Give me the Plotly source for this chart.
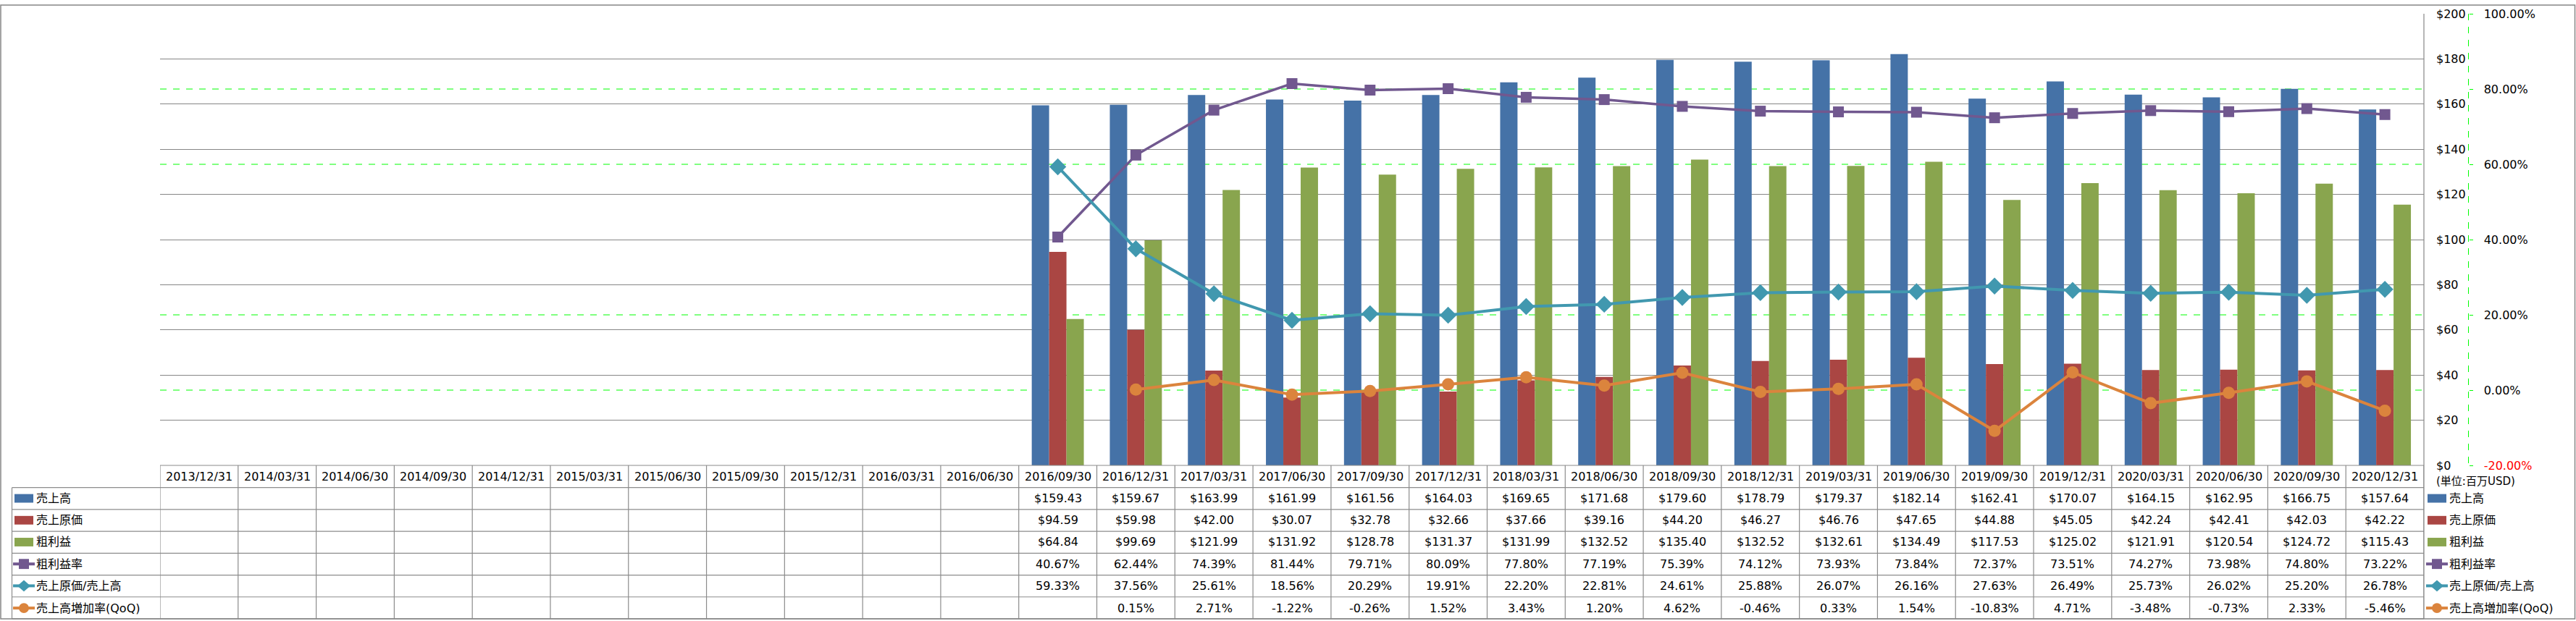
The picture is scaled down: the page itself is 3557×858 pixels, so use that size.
import plotly.graph_objects as go

dates = ["2013/12/31", "2014/03/31", "2014/06/30", "2014/09/30", "2014/12/31",
         "2015/03/31", "2015/06/30", "2015/09/30", "2015/12/31", "2016/03/31",
         "2016/06/30", "2016/09/30", "2016/12/31", "2017/03/31", "2017/06/30",
         "2017/09/30", "2017/12/31", "2018/03/31", "2018/06/30", "2018/09/30",
         "2018/12/31", "2019/03/31", "2019/06/30", "2019/09/30", "2019/12/31",
         "2020/03/31", "2020/06/30", "2020/09/30", "2020/12/31"]
n_empty = 11  # quarters with no data

sales = [159.43, 159.67, 163.99, 161.99, 161.56, 164.03, 169.65, 171.68, 179.60,
         178.79, 179.37, 182.14, 162.41, 170.07, 164.15, 162.95, 166.75, 157.64]
cogs = [94.59, 59.98, 42.00, 30.07, 32.78, 32.66, 37.66, 39.16, 44.20,
        46.27, 46.76, 47.65, 44.88, 45.05, 42.24, 42.41, 42.03, 42.22]
gross = [64.84, 99.69, 121.99, 131.92, 128.78, 131.37, 131.99, 132.52, 135.40,
         132.52, 132.61, 134.49, 117.53, 125.02, 121.91, 120.54, 124.72, 115.43]
gross_margin = [40.67, 62.44, 74.39, 81.44, 79.71, 80.09, 77.80, 77.19, 75.39,
                74.12, 73.93, 73.84, 72.37, 73.51, 74.27, 73.98, 74.80, 73.22]
cogs_ratio = [59.33, 37.56, 25.61, 18.56, 20.29, 19.91, 22.20, 22.81, 24.61,
              25.88, 26.07, 26.16, 27.63, 26.49, 25.73, 26.02, 25.20, 26.78]
qoq = [None, 0.15, 2.71, -1.22, -0.26, 1.52, 3.43, 1.20, 4.62,
       -0.46, 0.33, 1.54, -10.83, 4.71, -3.48, -0.73, 2.33, -5.46]

names = ["売上高", "売上原価", "粗利益", "粗利益率", "売上原価/売上高", "売上高増加率(QoQ)"]
colors = ["#4572A7", "#AA4643", "#89A54E", "#71588F", "#4198AF", "#DB843D"]
usd_ticks = list(range(0, 201, 20))
pct_ticks = list(range(-20, 101, 20))


def pad(v):
    return [None] * n_empty + list(v)


W, H = 3557, 858
L, R, T, B = 221, 10, 13, 215
PW = W - L - R
PH = H - T - B
PLOT_RIGHT = 3347


def xp(px):
    return (px - L) / PW


def yp(py):
    return (T + PH - py) / PH


FONT = "DejaVu Sans, Noto Sans CJK JP, sans-serif"
GRID = "#868686"
LINE = "#8c8c8c"

fig = go.Figure()
for name, vals, col in zip(names[:3], [sales, cogs, gross], colors[:3]):
    fig.add_trace(go.Bar(x=dates, y=pad(vals), name=name, marker_color=col,
                         marker_line_width=0, yaxis="y", showlegend=False))

line_specs = [("square", 15, 3.5), ("diamond", 18, 4), ("circle", 17, 4)]
for name, vals, col, (sym, size, lw) in zip(names[3:], [gross_margin, cogs_ratio, qoq],
                                             colors[3:], line_specs):
    fig.add_trace(go.Scatter(x=dates, y=pad(vals), name=name, mode="lines+markers",
                             line=dict(color=col, width=lw),
                             marker=dict(symbol=sym, size=size, color=col,
                                         line=dict(width=0)),
                             yaxis="y2", showlegend=False, connectgaps=False))

shapes = []
annotations = []

# secondary (percent) gridlines: dashed green where not hidden by the primary gray grid
for v in pct_ticks:
    if (v + 20) % 60 == 0:  # coincides with a $ gridline (-20, 40, 100)
        continue
    shapes.append(dict(type="line", xref="x", yref="y2", x0=-0.5, x1=len(dates) - 0.5,
                       y0=v, y1=v, layer="below",
                       line=dict(color="#00FF00", width=1, dash="dash")))

# table horizontal lines
row_y = [643, 674, 704.5, 735, 765.5, 796, 826.5, 857]
for i, y in enumerate(row_y):
    x0 = L if i == 0 else 16.5
    shapes.append(dict(type="line", xref="paper", yref="paper", x0=xp(x0), x1=xp(PLOT_RIGHT),
                       y0=yp(y), y1=yp(y), line=dict(color=LINE, width=1.2)))
# table vertical lines
for i in range(len(dates) + 1):
    shapes.append(dict(type="line", xref="x", yref="paper", x0=i - 0.5, x1=i - 0.5,
                       y0=yp(643), y1=yp(857), line=dict(color=LINE, width=1.2)))
shapes.append(dict(type="line", xref="paper", yref="paper", x0=xp(16.5), x1=xp(16.5),
                   y0=yp(674), y1=yp(857), line=dict(color=LINE, width=1.2)))
# right border of plot (through table)
shapes.append(dict(type="line", xref="paper", yref="paper", x0=xp(PLOT_RIGHT), x1=xp(PLOT_RIGHT),
                   y0=yp(T), y1=yp(857), line=dict(color=GRID, width=1.2)))
# dashed secondary axis line
sec_x = 3408.5
shapes.append(dict(type="line", xref="paper", yref="paper", x0=xp(sec_x), x1=xp(sec_x),
                   y0=yp(T), y1=yp(643), line=dict(color="#00FF00", width=1, dash="dash")))
# outer frame
shapes.append(dict(type="rect", xref="paper", yref="paper", x0=xp(1), x1=xp(W - 1.5),
                   y0=yp(1), y1=yp(H - 1), line=dict(color=GRID, width=1.5)))

# header row
for d in dates:
    annotations.append(dict(x=d, xref="x", y=yp(658.5), yref="paper", text=d,
                            showarrow=False, font=dict(size=16, color="#000"),
                            xanchor="center", yanchor="middle"))

row_centers = [689, 719.5, 750, 780.5, 811, 842]
row_values = [
    ["$%.2f" % v for v in sales],
    ["$%.2f" % v for v in cogs],
    ["$%.2f" % v for v in gross],
    ["%.2f%%" % v for v in gross_margin],
    ["%.2f%%" % v for v in cogs_ratio],
    ["" if v is None else "%.2f%%" % v for v in qoq],
]
for rc, vals in zip(row_centers, row_values):
    for d, t in zip(dates[n_empty:], vals):
        if t:
            annotations.append(dict(x=d, xref="x", y=yp(rc), yref="paper", text=t,
                                    showarrow=False, font=dict(size=16, color="#000"),
                                    xanchor="center", yanchor="middle"))


def legend_symbol(x0, yc, idx):
    col = colors[idx]
    if idx < 3:
        shapes.append(dict(type="rect", xref="paper", yref="paper", x0=xp(x0), x1=xp(x0 + 26),
                           y0=yp(yc - 6), y1=yp(yc + 6), fillcolor=col, line=dict(width=0)))
    else:
        shapes.append(dict(type="line", xref="paper", yref="paper", x0=xp(x0 - 2), x1=xp(x0 + 28),
                           y0=yp(yc), y1=yp(yc), line=dict(color=col, width=4)))
        cx = x0 + 13
        if idx == 3:
            shapes.append(dict(type="rect", xref="paper", yref="paper", x0=xp(cx - 7), x1=xp(cx + 7),
                               y0=yp(yc - 7), y1=yp(yc + 7), fillcolor=col, line=dict(width=0)))
        elif idx == 4:
            path = "M %f %f L %f %f L %f %f L %f %f Z" % (
                xp(cx - 9), yp(yc), xp(cx), yp(yc - 8), xp(cx + 9), yp(yc), xp(cx), yp(yc + 8))
            shapes.append(dict(type="path", xref="paper", yref="paper", path=path,
                               fillcolor=col, line=dict(width=0)))
        else:
            shapes.append(dict(type="circle", xref="paper", yref="paper", x0=xp(cx - 7), x1=xp(cx + 7),
                               y0=yp(yc - 7), y1=yp(yc + 7), fillcolor=col, line=dict(width=0)))


for idx, (nm, rc) in enumerate(zip(names, row_centers)):
    legend_symbol(20, rc, idx)
    annotations.append(dict(x=xp(48), xref="paper", y=yp(rc), yref="paper", text=nm,
                            showarrow=False, font=dict(size=16, color="#000"),
                            xanchor="left", yanchor="middle"))
    legend_symbol(3352, rc, idx)
    annotations.append(dict(x=xp(3380), xref="paper", y=yp(rc), yref="paper", text=nm,
                            showarrow=False, font=dict(size=16, color="#000"),
                            xanchor="left", yanchor="middle"))

annotations.append(dict(x=xp(3362), xref="paper", y=yp(665), yref="paper", text="(単位:百万USD)",
                        showarrow=False, font=dict(size=15, color="#000"),
                        xanchor="left", yanchor="middle"))

pct_text = []
for v in pct_ticks:
    s = "%.2f%%" % v
    if v < 0:
        s = '<span style="color:#FF0000">%s</span>' % s
    pct_text.append(s)

fig.update_layout(
    width=W, height=H,
    margin=dict(l=L, r=R, t=T, b=B),
    paper_bgcolor="white", plot_bgcolor="rgba(0,0,0,0)",
    font=dict(family=FONT, size=16, color="#000"),
    barmode="group", bargap=0.333, bargroupgap=0,
    xaxis=dict(type="category", categoryorder="array", categoryarray=dates,
               range=[-0.5, len(dates) - 0.5], domain=[0, xp(PLOT_RIGHT)],
               showticklabels=False, showgrid=False, zeroline=False, showline=False,
               fixedrange=True),
    yaxis=dict(range=[0, 200], side="right", tickvals=usd_ticks,
               ticktext=["$%d" % v for v in usd_ticks], showgrid=True,
               gridcolor=GRID, gridwidth=1, zeroline=False, showline=False,
               ticks="", ticklabelstandoff=16, tickfont=dict(size=16, color="#000")),
    yaxis2=dict(range=[-20, 100], overlaying="y", side="right", anchor="free",
                position=xp(sec_x), tickvals=pct_ticks, ticktext=pct_text,
                showgrid=False, zeroline=False, showline=False, ticks="outside", ticklen=5,
                tickcolor="#00FF00", ticklabelstandoff=12,
                tickfont=dict(size=16, color="#000")),
    shapes=shapes,
    annotations=annotations,
)

fig.write_html("out.html", config={"displayModeBar": False},
               post_script="document.body.style.margin='0px';document.body.style.overflow='hidden';")
